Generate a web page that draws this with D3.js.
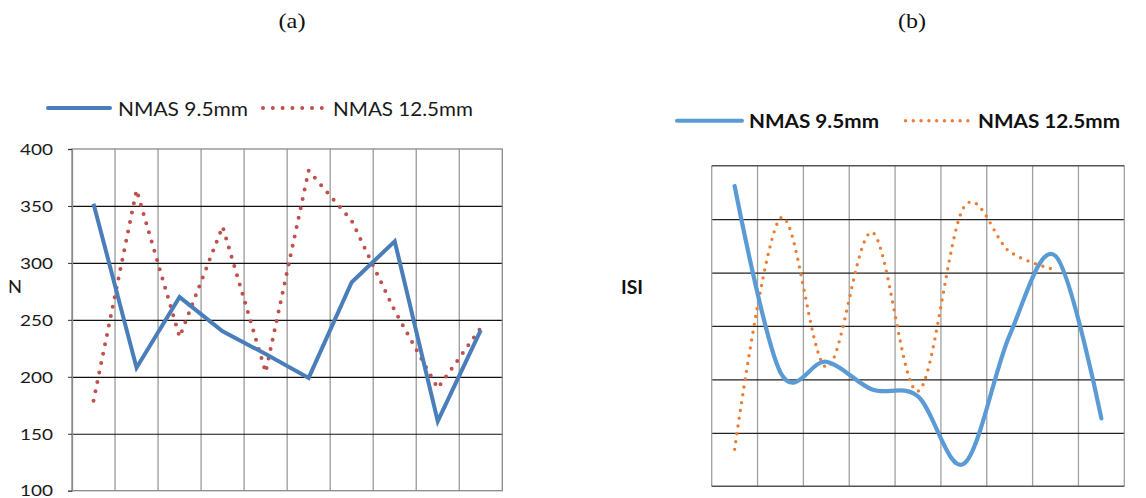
<!DOCTYPE html>
<html>
<head>
<meta charset="utf-8">
<script src="https://cdn.jsdelivr.net/npm/d3@7/dist/d3.min.js"></script>
<style>
  html, body { margin: 0; padding: 0; background: #fff; }
  svg { display: block; }
</style>
</head>
<body>
<svg id="chart" width="1146" height="498"></svg>
<script>
// ---- data -------------------------------------------------------------
const panelTitles = ["(a)", "(b)"];
const seriesNames = ["NMAS 9.5mm", "NMAS 12.5mm"];

// panel (a): N per specimen
const categoriesA = [1, 2, 3, 4, 5, 6, 7, 8, 9, 10];
const nmas95A  = [352, 208, 270, 240, 220, 199, 283, 319, 161, 241];
const nmas125A = [179, 364, 235, 332, 204, 381, 337, 258, 190, 243];
const ticksA   = [100, 150, 200, 250, 300, 350, 400];

// panel (b): ISI per specimen (smoothed lines, value axis unlabeled)
const categoriesB = [1, 2, 3, 4, 5, 6, 7, 8, 9];
const nmas95B  = [56.2, 21.3, 23.3, 18.1, 16.8, 4.2, 28.3, 43.1, 12.7];
const nmas125B = [6.9, 50.2, 22.3, 47.5, 17.8, 52.2, 43.9, 40.5];
const ticksB   = [0, 10, 20, 30, 40, 50, 60];

// ---- setup ------------------------------------------------------------
const svg = d3.select("#chart");
const FONT = "Lato, 'Open Sans', sans-serif";

svg.selectAll("text.title")
  .data(panelTitles)
  .join("text")
  .attr("class", "title")
  .attr("x", (d, i) => i === 0 ? 292 : 912)
  .attr("y", 28)
  .attr("text-anchor", "middle")
  .attr("textLength", (d, i) => i === 0 ? 27 : 28)
  .attr("lengthAdjust", "spacingAndGlyphs")
  .style("font-family", "'Liberation Serif', 'Times New Roman', serif")
  .style("font-size", "21px")
  .style("fill", "#111")
  .text(d => d);

// ---- panel (a) --------------------------------------------------------
const A = { left: 72, right: 502.3, top: 149, bottom: 490.7 };
const xA = d3.scaleBand().domain(categoriesA).range([A.left, A.right]);
const yA = d3.scaleLinear().domain([100, 400]).range([A.bottom, A.top]);
const gA = svg.append("g");

// vertical gridlines at category boundaries
gA.append("g")
  .selectAll("line")
  .data(categoriesA.slice(1))
  .join("line")
  .attr("x1", d => xA(d)).attr("x2", d => xA(d))
  .attr("y1", A.top).attr("y2", A.bottom)
  .attr("stroke", "#9a9a9a").attr("stroke-width", 1.3);

// horizontal gridlines
gA.append("g")
  .attr("transform", `translate(${A.left},0)`)
  .call(d3.axisLeft(yA).tickValues(ticksA.slice(1, -1)).tickSize(-(A.right - A.left)).tickFormat(""))
  .call(g => g.select(".domain").remove())
  .call(g => g.selectAll(".tick line").attr("stroke", "#111").attr("stroke-width", 1.2));

// plot border
gA.append("rect")
  .attr("x", A.left).attr("y", A.top)
  .attr("width", A.right - A.left).attr("height", A.bottom - A.top)
  .attr("fill", "none").attr("stroke", "#8a8a8a").attr("stroke-width", 1.3);

// value axis with labels
gA.append("g")
  .attr("transform", `translate(${A.left},0)`)
  .call(d3.axisLeft(yA).tickValues(ticksA).tickSize(4).tickPadding(15))
  .call(g => g.select(".domain").attr("stroke", "#8a8a8a").attr("stroke-width", 1.3))
  .call(g => g.selectAll(".tick line").attr("stroke", "#333"))
  .call(g => g.selectAll(".tick text")
    .attr("dy", "0.34em")
    .attr("textLength", 33)
    .attr("lengthAdjust", "spacingAndGlyphs")
    .style("font-family", FONT)
    .style("font-size", "15.5px")
    .style("fill", "#1a1a1a"));

gA.append("text")
  .attr("x", 8).attr("y", 293)
  .attr("textLength", 14).attr("lengthAdjust", "spacingAndGlyphs")
  .style("font-family", FONT).style("font-size", "18px").style("fill", "#1a1a1a")
  .text("N");

const lineA = d3.line()
  .x((d, i) => xA(categoriesA[i]) + xA.bandwidth() / 2)
  .y(d => yA(d));

gA.append("path")
  .datum(nmas125A)
  .attr("d", lineA)
  .attr("fill", "none")
  .attr("stroke", "#C0504D")
  .attr("stroke-width", 4)
  .attr("stroke-linecap", "round")
  .attr("stroke-dasharray", "0 9.6");

gA.append("path")
  .datum(nmas95A)
  .attr("d", lineA)
  .attr("fill", "none")
  .attr("stroke", "#4A7EBB")
  .attr("stroke-width", 4)
  .attr("stroke-linejoin", "miter");

// legend (a)
const legA = gA.append("g");
legA.append("line")
  .attr("x1", 48).attr("x2", 110).attr("y1", 108).attr("y2", 108)
  .attr("stroke", "#4A7EBB").attr("stroke-width", 4).attr("stroke-linecap", "round");
legA.append("line")
  .attr("x1", 263).attr("x2", 322).attr("y1", 108).attr("y2", 108)
  .attr("stroke", "#C0504D").attr("stroke-width", 4)
  .attr("stroke-linecap", "round").attr("stroke-dasharray", "0 9.8");
legA.selectAll("text")
  .data(seriesNames)
  .join("text")
  .attr("x", (d, i) => i === 0 ? 118 : 333)
  .attr("y", 116)
  .attr("textLength", (d, i) => i === 0 ? 130 : 140)
  .attr("lengthAdjust", "spacingAndGlyphs")
  .style("font-family", FONT).style("font-size", "19.5px").style("fill", "#1a1a1a")
  .text(d => d);

// ---- panel (b) --------------------------------------------------------
const B = { left: 711.7, right: 1124.3, top: 165.7, bottom: 486.2 };
const xB = d3.scaleBand().domain(categoriesB).range([B.left, B.right]);
const yB = d3.scaleLinear().domain([0, 60]).range([B.bottom, B.top]);
const gB = svg.append("g");

gB.append("g")
  .selectAll("line")
  .data(categoriesB.slice(1))
  .join("line")
  .attr("x1", d => xB(d)).attr("x2", d => xB(d))
  .attr("y1", B.top).attr("y2", B.bottom)
  .attr("stroke", "#a0a0a0").attr("stroke-width", 1.3);

gB.append("g")
  .attr("transform", `translate(${B.left},0)`)
  .call(d3.axisLeft(yB).tickValues(ticksB.slice(1, -1)).tickSize(-(B.right - B.left)).tickFormat(""))
  .call(g => g.select(".domain").remove())
  .call(g => g.selectAll(".tick line").attr("stroke", "#222").attr("stroke-width", 1.3));

// border: darker top and bottom edges, lighter sides
gB.append("line")
  .attr("x1", B.left).attr("x2", B.left).attr("y1", B.top).attr("y2", B.bottom)
  .attr("stroke", "#a0a0a0").attr("stroke-width", 1.3);
gB.append("line")
  .attr("x1", B.right).attr("x2", B.right).attr("y1", B.top).attr("y2", B.bottom)
  .attr("stroke", "#a0a0a0").attr("stroke-width", 1.3);
gB.selectAll("line.hedge")
  .data([B.top, B.bottom])
  .join("line")
  .attr("class", "hedge")
  .attr("x1", B.left).attr("x2", B.right).attr("y1", d => d).attr("y2", d => d)
  .attr("stroke", "#555").attr("stroke-width", 1.4);

gB.append("text")
  .attr("x", 621).attr("y", 294)
  .attr("textLength", 22).attr("lengthAdjust", "spacingAndGlyphs")
  .style("font-family", FONT).style("font-size", "18px").style("font-weight", "bold")
  .style("fill", "#111")
  .text("ISI");

const lineB = d3.line()
  .x((d, i) => xB(categoriesB[i]) + xB.bandwidth() / 2)
  .y(d => yB(d))
  .curve(d3.curveCardinal.tension(0));

gB.append("path")
  .datum(nmas125B)
  .attr("d", lineB)
  .attr("fill", "none")
  .attr("stroke", "#ED7D31")
  .attr("stroke-width", 3.4)
  .attr("stroke-linecap", "round")
  .attr("stroke-dasharray", "0 7.9");

gB.append("path")
  .datum(nmas95B)
  .attr("d", lineB)
  .attr("fill", "none")
  .attr("stroke", "#5B9BD5")
  .attr("stroke-width", 4.2)
  .attr("stroke-linecap", "round");

// legend (b)
const legB = gB.append("g");
legB.append("line")
  .attr("x1", 677).attr("x2", 742).attr("y1", 120.7).attr("y2", 120.7)
  .attr("stroke", "#5B9BD5").attr("stroke-width", 4).attr("stroke-linecap", "round");
legB.append("line")
  .attr("x1", 905.5).attr("x2", 968).attr("y1", 120.7).attr("y2", 120.7)
  .attr("stroke", "#ED7D31").attr("stroke-width", 3.4)
  .attr("stroke-linecap", "round").attr("stroke-dasharray", "0 7.8");
legB.selectAll("text")
  .data(seriesNames)
  .join("text")
  .attr("x", (d, i) => i === 0 ? 749 : 978)
  .attr("y", 128)
  .attr("textLength", (d, i) => i === 0 ? 130 : 142)
  .attr("lengthAdjust", "spacingAndGlyphs")
  .style("font-family", FONT).style("font-size", "19.5px").style("font-weight", "bold")
  .style("fill", "#111")
  .text(d => d);
</script>
</body>
</html>
